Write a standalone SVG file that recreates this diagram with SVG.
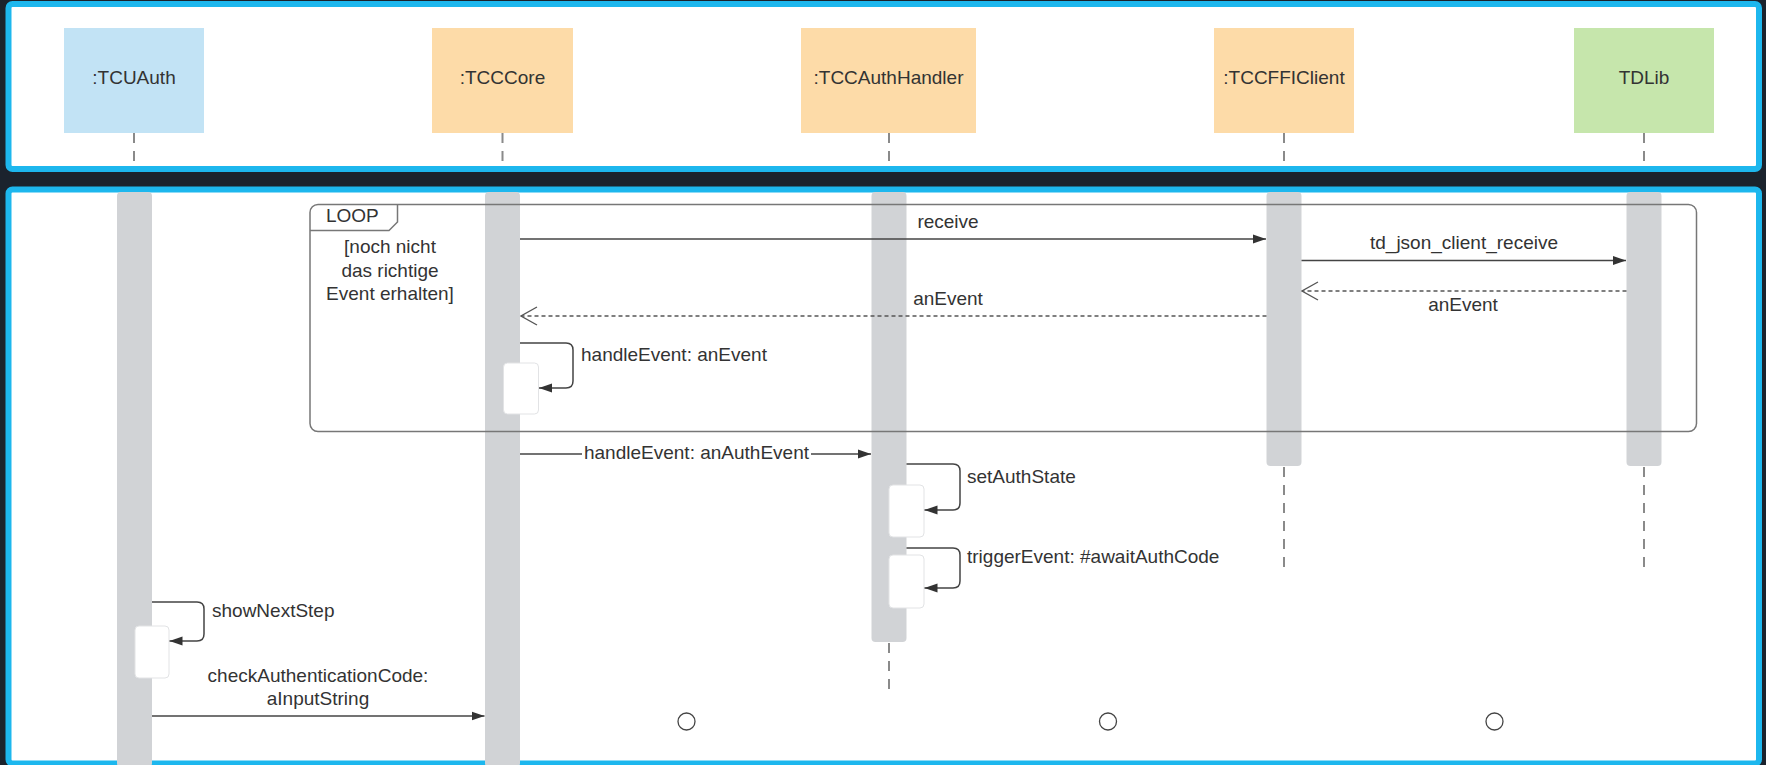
<svg xmlns="http://www.w3.org/2000/svg" width="1766" height="765" viewBox="0 0 1766 765">
  <style>
    .panel { fill: #ffffff; stroke: #1db7ee; stroke-width: 6; }
    .head text, .lbl { font-family: "Liberation Sans", Arial, sans-serif; font-size: 19px; fill: #333333; }
    .life { stroke: #8a8a8a; stroke-width: 2; stroke-dasharray: 10 8; fill: none; }
    .bar { fill: #d1d3d6; }
    .act { fill: #ffffff; stroke: #e2e3e5; stroke-width: 1; }
    .msg { stroke: #444444; stroke-width: 1.5; fill: none; }
    .ret { stroke: #555555; stroke-width: 1.5; fill: none; stroke-dasharray: 4 3; }
    .frame { fill: none; stroke: #777777; stroke-width: 1.5; }
    .end { fill: #ffffff; stroke: #444444; stroke-width: 1.3; }
  </style>
  <defs>
    <marker id="solid" markerUnits="userSpaceOnUse" markerWidth="14" markerHeight="10" refX="13" refY="5" orient="auto">
      <path d="M0,0.5 L13,5 L0,9.5 Z" fill="#333333"/>
    </marker>
    <marker id="open" markerUnits="userSpaceOnUse" markerWidth="18" markerHeight="20" refX="17" refY="10" orient="auto">
      <path d="M1,1 L17,10 L1,19" fill="none" stroke="#555555" stroke-width="1.3" stroke-dasharray="none"/>
    </marker>
  </defs>

  <!-- background -->
  <rect x="0" y="0" width="1766" height="765" fill="#1b232d"/>

  <!-- header panel and body panel -->
  <rect class="panel" x="8.5" y="4" width="1750.5" height="165" rx="4"/>
  <rect class="panel" x="8.5" y="189.5" width="1750.5" height="574" rx="4"/>

  <!-- lifelines (dashed parts) -->
  <g id="lifelines">
    <line class="life" x1="134" y1="133" x2="134" y2="166"/>
    <line class="life" x1="502.5" y1="133" x2="502.5" y2="166"/>
    <line class="life" x1="889" y1="133" x2="889" y2="166"/>
    <line class="life" x1="1284" y1="133" x2="1284" y2="166"/>
    <line class="life" x1="1644" y1="133" x2="1644" y2="166"/>
    <line class="life" x1="889" y1="643" x2="889" y2="696"/>
    <line class="life" x1="1284" y1="467" x2="1284" y2="572"/>
    <line class="life" x1="1644" y1="467" x2="1644" y2="572"/>
  </g>

  <!-- participants -->
  <g id="tcuauth" class="head">
    <rect x="64" y="28" width="140" height="105" fill="#c2e3f5"/>
    <text x="134" y="84" text-anchor="middle">:TCUAuth</text>
    <rect class="bar" x="117" y="192" width="35" height="575" rx="4"/>
  </g>
  <g id="tcccore" class="head">
    <rect x="432" y="28" width="141" height="105" fill="#fddba8"/>
    <text x="502.5" y="84" text-anchor="middle">:TCCCore</text>
    <rect class="bar" x="485" y="192" width="35" height="575" rx="4"/>
  </g>
  <g id="tccauthhandler" class="head">
    <rect x="801" y="28" width="175" height="105" fill="#fddba8"/>
    <text x="888.5" y="84" text-anchor="middle">:TCCAuthHandler</text>
    <rect class="bar" x="871.5" y="192" width="35" height="450" rx="4"/>
  </g>
  <g id="tccfficlient" class="head">
    <rect x="1214" y="28" width="140" height="105" fill="#fddba8"/>
    <text x="1284" y="84" text-anchor="middle">:TCCFFIClient</text>
    <rect class="bar" x="1266.5" y="192" width="35" height="274" rx="4"/>
  </g>
  <g id="tdlib" class="head">
    <rect x="1574" y="28" width="140" height="105" fill="#c6e6ac"/>
    <text x="1644" y="84" text-anchor="middle">TDLib</text>
    <rect class="bar" x="1626.5" y="192" width="35" height="274" rx="4"/>
  </g>

  <!-- loop fragment -->
  <g id="loop">
    <rect class="frame" x="310" y="204.5" width="1386.5" height="227" rx="8"/>
    <path class="frame" d="M310,230.5 H389 L397.5,222 V204.5"/>
    <text class="lbl" x="326" y="222">LOOP</text>
    <text class="lbl" x="390" y="253" text-anchor="middle">[noch nicht</text>
    <text class="lbl" x="390" y="277" text-anchor="middle">das richtige</text>
    <text class="lbl" x="390" y="300" text-anchor="middle">Event erhalten]</text>
  </g>

  <!-- execution occurrences -->
  <g id="activations">
    <rect class="act" x="503.5" y="363" width="35" height="51" rx="4"/>
    <rect class="act" x="889" y="485" width="35" height="52" rx="4"/>
    <rect class="act" x="889" y="555" width="35" height="53" rx="4"/>
    <rect class="act" x="135" y="626" width="34" height="52" rx="4"/>
  </g>

  <!-- messages -->
  <g id="connectors">
    <line class="msg" x1="520" y1="239" x2="1266" y2="239" marker-end="url(#solid)"/>
    <line class="msg" x1="1301.5" y1="260.5" x2="1626" y2="260.5" marker-end="url(#solid)"/>
    <line class="ret" x1="1626.5" y1="291" x2="1302" y2="291" marker-end="url(#open)"/>
    <line class="ret" x1="1266.5" y1="316" x2="521" y2="316" marker-end="url(#open)"/>
    <path class="msg" d="M520,343 H566 Q573,343 573,350 V381 Q573,388 566,388 H539" marker-end="url(#solid)"/>
    <line class="msg" x1="520" y1="454" x2="871" y2="454" marker-end="url(#solid)"/>
    <path class="msg" d="M906.5,464 H953 Q960,464 960,471 V503 Q960,510 953,510 H924.5" marker-end="url(#solid)"/>
    <path class="msg" d="M906.5,548 H953 Q960,548 960,555 V581 Q960,588 953,588 H924.5" marker-end="url(#solid)"/>
    <path class="msg" d="M152,602 H197 Q204,602 204,609 V634 Q204,641 197,641 H169.5" marker-end="url(#solid)"/>
    <line class="msg" x1="152" y1="716" x2="484.5" y2="716" marker-end="url(#solid)"/>
  </g>

  <!-- message labels -->
  <g id="labels">
    <text class="lbl" x="948" y="228" text-anchor="middle">receive</text>
    <text class="lbl" x="1464" y="249" text-anchor="middle">td_json_client_receive</text>
    <text class="lbl" x="1463" y="311" text-anchor="middle">anEvent</text>
    <text class="lbl" x="948" y="305" text-anchor="middle">anEvent</text>
    <text class="lbl" x="581" y="361">handleEvent: anEvent</text>
    <rect x="582" y="443" width="229" height="20" fill="#ffffff"/>
    <text class="lbl" x="696.5" y="459" text-anchor="middle">handleEvent: anAuthEvent</text>
    <text class="lbl" x="967" y="483">setAuthState</text>
    <text class="lbl" x="967" y="563">triggerEvent: #awaitAuthCode</text>
    <text class="lbl" x="212" y="617">showNextStep</text>
    <text class="lbl" x="318" y="682" text-anchor="middle">checkAuthenticationCode:</text>
    <text class="lbl" x="318" y="705" text-anchor="middle">aInputString</text>
  </g>

  <!-- open ends -->
  <g id="ends">
    <circle class="end" cx="686.5" cy="721.5" r="8.5"/>
    <circle class="end" cx="1108" cy="721.5" r="8.5"/>
    <circle class="end" cx="1494.5" cy="721.5" r="8.5"/>
  </g>
</svg>
